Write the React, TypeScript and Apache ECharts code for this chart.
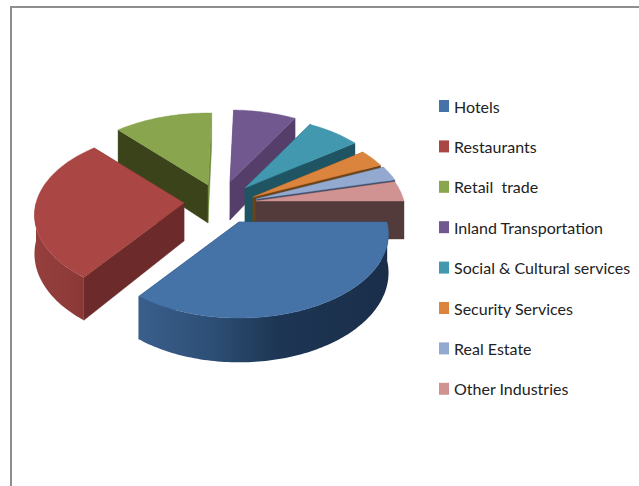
import React, { useEffect, useRef } from "react";
import * as echarts from "echarts";

const categories = ["Hotels", "Restaurants", "Retail  trade", "Inland Transportation", "Social & Cultural services", "Security Services", "Real Estate", "Other Industries"];
const values = [35.3, 28.1, 12.2, 7.8, 6.7, 3.4, 2.8, 3.9];
const topColors = ["#4572A7", "#AA4643", "#89A54E", "#71588F", "#4198AF", "#DB843D", "#93A9CF", "#D19392"];
const faceColors = ["#1f3a5a", "#6c2b2a", "#3a431a", "#553e69", "#1f5562", "#6f4314", "#3d4f6d", "#543b3b"];
const endColors = ["#1f3a5a", "#6c2b2a", "#6f8b3c", "#553e69", "#1f5562", "#6f4314", "#3d4f6d", "#543b3b"];
const apexX = [239, 184, 208, 230, 245, 253, 256, 256];
const apexY = [222, 203, 185, 182, 188, 197, 199, 201];
const drawOrder = [8, 7, 1, 2, 3, 4, 5, 6];

const RX = 148, RY = 82.3, K = 1 / 7, DEPTH = 38;
const total = values.reduce((a, b) => a + b, 0);
const starts: number[] = [];
values.reduce((acc, v, i) => { starts[i] = acc; return acc + (v / total) * Math.PI * 2; }, 0);

const project = (i: number, t: number, down: boolean) => {
  const w = 1 - K * Math.sin(t);
  return [apexX[i] + (RX * Math.cos(t)) / w, apexY[i] + (RY * Math.sin(t)) / w + (down ? DEPTH / w : 0)];
};

const arc = (i: number, a: number, b: number, down: boolean) => {
  const out: number[][] = [];
  const n = Math.max(2, Math.ceil(Math.abs(b - a) / 0.02));
  for (let k = 0; k <= n; k++) out.push(project(i, a + ((b - a) * k) / n, down));
  return out;
};

const renderSlice = (i: number) => () => {
  const a = starts[i];
  const b = a + (values[i] / total) * Math.PI * 2;
  const apex = [apexX[i], apexY[i]];
  const apexDown = [apexX[i], apexY[i] + DEPTH];
  const children: any[] = [];
  const poly = (points: number[][], fill: any) =>
    children.push({ type: "polygon", shape: { points }, style: { fill, stroke: typeof fill === "string" ? fill : undefined, lineWidth: 0.4 } });
  poly([apex, project(i, a, false), project(i, a, true), apexDown], faceColors[i]);
  poly([apex, project(i, b, false), project(i, b, true), apexDown], endColors[i]);
  const oa = a, ob = Math.min(b, Math.PI);
  if (ob > oa) {
    const fill =
      i === 0
        ? new echarts.graphic.LinearGradient(0, 0, 1, 0, [
            { offset: 0, color: "#3a5f8c" },
            { offset: 0.3, color: "#2d4e75" },
            { offset: 0.55, color: "#1d3654" },
            { offset: 1, color: "#1a2e4a" },
          ])
        : new echarts.graphic.LinearGradient(0, 0, 1, 0, [
            { offset: 0, color: "#96403e" },
            { offset: 1, color: "#8a3836" },
          ]);
    poly([...arc(i, oa, ob, false), ...arc(i, ob, oa, true)], fill);
  }
  poly([apex, ...arc(i, a, b, false)], topColors[i]);
  return { type: "group", children };
};

export default function App() {
  const ref = useRef<HTMLDivElement>(null);
  useEffect(() => {
    document.body.style.margin = "0";
    const chart = echarts.init(ref.current!, null, { renderer: "svg" });
    chart.setOption({
      animation: false,
      backgroundColor: "#ffffff",
      color: topColors,
      legend: {
        orient: "vertical",
        left: 434,
        top: 89,
        itemWidth: 10,
        itemHeight: 12,
        itemGap: 16.4,
        selectedMode: false,
        icon: "rect",
        data: categories,
        textStyle: { fontFamily: "Lato", fontSize: 16, color: "#222222", lineHeight: 24 },
      },
      graphic: [
        { type: "line", shape: { x1: 11, y1: 7, x2: 11, y2: 486 }, style: { stroke: "#8e8e8e", lineWidth: 2 } },
        { type: "line", shape: { x1: 10, y1: 7, x2: 639, y2: 7 }, style: { stroke: "#8e8e8e", lineWidth: 2 } },
      ],
      series: categories.map((name, i) => ({
        type: "custom",
        name,
        coordinateSystem: "none",
        z: drawOrder[i],
        silent: true,
        itemStyle: { color: topColors[i] },
        data: [[values[i]]],
        renderItem: renderSlice(i),
      })),
    });
    return () => chart.dispose();
  }, []);
  return <div ref={ref} style={{ position: "fixed", left: 0, top: 0, width: 639, height: 486 }} />;
}
